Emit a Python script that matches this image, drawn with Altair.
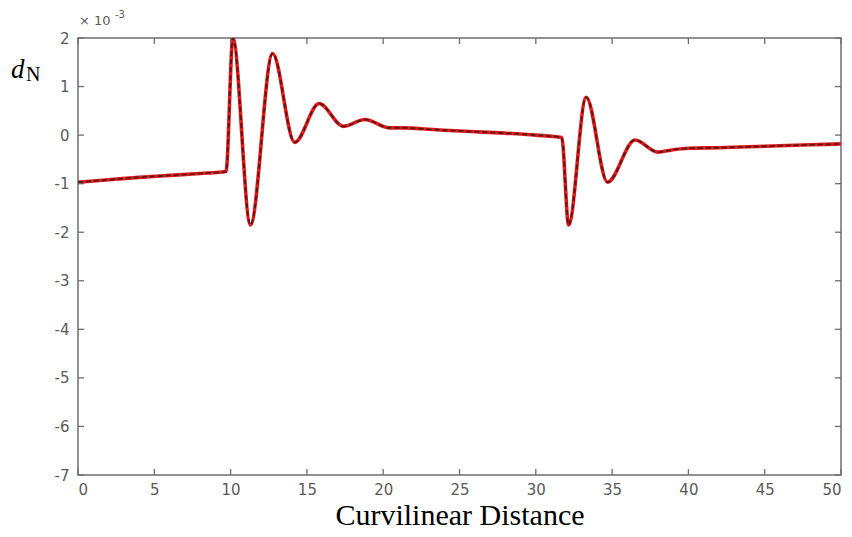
import altair as alt
import pandas as pd

# values (units of 1e-3)
distance = [0, 2, 4, 6, 8, 9.7, 10.15, 11.3, 12.75, 14.2,
            15.8, 17.4, 18.8, 20.4, 21.5, 22.5, 24, 26, 28, 30, 31.7,
            32.15, 33.3, 34.7, 36.5, 38.0,
            39.0, 40, 42, 45, 48, 50]
dN = [-0.97, -0.92, -0.87, -0.83, -0.79, -0.75, 2.0, -1.85, 1.68, -0.15,
      0.65, 0.18, 0.32, 0.15, 0.15, 0.13, 0.1, 0.07, 0.04, 0.0, -0.05,
      -1.85, 0.78, -0.97, -0.1, -0.35,
      -0.3, -0.27, -0.26, -0.23, -0.2, -0.18]
x_ticks = list(range(0, 51, 5))
y_ticks = list(range(-7, 3))

W, H = 763, 437
GRAY = "#6e6e6e"
LABEL = "#5a5a5a"

df = pd.DataFrame({"distance": distance, "dN": dN})
xscale = alt.Scale(domain=[0, 50], nice=False, zero=False)
yscale = alt.Scale(domain=[-7, 2], nice=False, zero=False)

red = alt.Chart(df).mark_line(color="#e01b1b", strokeWidth=3.6, interpolate="monotone", clip=True).encode(
    x=alt.X("distance:Q", scale=xscale,
            axis=alt.Axis(values=x_ticks, title="Curvilinear Distance", domain=False, ticks=False, grid=False,
                          labelExpr="'' + datum.value",
                          labelFont="DejaVu Sans", labelFontSize=15, labelColor=LABEL, labelPadding=7,
                          titleFont="Liberation Serif", titleFontSize=30, titleFontWeight="normal",
                          titleColor="black", titlePadding=3)),
    y=alt.Y("dN:Q", scale=yscale,
            axis=alt.Axis(values=y_ticks, title=None, domain=False, ticks=False, grid=False,
                          labelExpr="'' + datum.value",
                          labelFont="DejaVu Sans", labelFontSize=15, labelColor=LABEL, labelPadding=9)),
)
dark = alt.Chart(df).mark_line(color="#5a1515", strokeWidth=1.8, strokeDash=[5, 3],
                               interpolate="monotone", clip=True).encode(
    x=alt.X("distance:Q", scale=xscale), y=alt.Y("dN:Q", scale=yscale))

xt = pd.DataFrame({"distance": x_ticks})
yt = pd.DataFrame({"dN": y_ticks})
tick_style = dict(color=GRAY, strokeWidth=1.3)
xb = alt.Chart(xt).mark_rule(**tick_style).encode(x=alt.X("distance:Q", scale=xscale), y=alt.value(H), y2=alt.value(H - 6))
xtop = alt.Chart(xt).mark_rule(**tick_style).encode(x=alt.X("distance:Q", scale=xscale), y=alt.value(0), y2=alt.value(6))
yl = alt.Chart(yt).mark_rule(**tick_style).encode(y=alt.Y("dN:Q", scale=yscale), x=alt.value(0), x2=alt.value(6))
yr = alt.Chart(yt).mark_rule(**tick_style).encode(y=alt.Y("dN:Q", scale=yscale), x=alt.value(W), x2=alt.value(W - 6))

one = pd.DataFrame({"k": [0]})
exp_base = alt.Chart(one).mark_text(align="left", baseline="alphabetic", font="DejaVu Sans", fontSize=13,
                                    color=LABEL).encode(x=alt.value(1), y=alt.value(-13), text=alt.value("× 10"))
exp_sup = alt.Chart(one).mark_text(align="left", baseline="alphabetic", font="DejaVu Sans", fontSize=10,
                                   color=LABEL).encode(x=alt.value(37), y=alt.value(-20), text=alt.value("-3"))
d_lab = alt.Chart(one).mark_text(align="left", baseline="alphabetic", font="Liberation Serif", fontSize=27,
                                 fontStyle="italic", color="black").encode(x=alt.value(-67), y=alt.value(40), text=alt.value("d"))
n_lab = alt.Chart(one).mark_text(align="left", baseline="alphabetic", font="Liberation Serif", fontSize=20,
                                 color="black").encode(x=alt.value(-52), y=alt.value(43), text=alt.value("N"))

chart = alt.layer(red, dark, xb, xtop, yl, yr, exp_base, exp_sup, d_lab, n_lab).properties(
    width=W, height=H,
    autosize="none",
    padding={"left": 78, "top": 38, "right": 11, "bottom": 62},
    background="white",
).configure_view(stroke=GRAY, strokeWidth=1.5)

chart.save("out.html", embed_options={"renderer": "svg", "actions": False})
